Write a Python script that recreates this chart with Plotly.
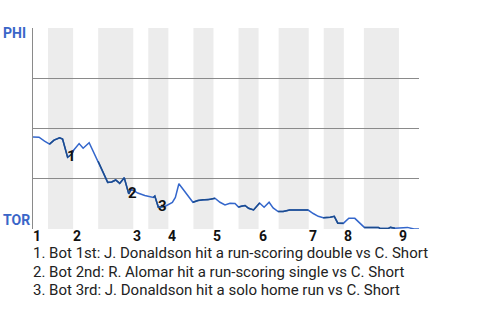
import plotly.graph_objects as go

# ---- data -------------------------------------------------------------
# event position (plate-appearance scale) and PHI win probability (%)
event_x = [0.0, 1.2, 2.3, 3.3, 4.2, 5.3, 5.9, 6.9, 7.7, 8.1, 9.2, 10.0, 11.2,
           13.0, 14.9, 15.7, 16.5, 17.3, 18.2, 19.1, 19.6, 20.9, 22.3, 24.0,
           24.3, 25.0, 26.3, 27.8, 28.4, 29.1, 30.6, 31.9, 32.9, 33.9, 34.9,
           35.6, 36.3, 37.3, 38.3, 39.3, 40.3, 41.0, 41.6, 42.3, 43.0, 44.0,
           45.2, 46.1, 47.1, 47.9, 48.9, 49.9, 51.2, 54.9, 55.9, 56.9, 57.9,
           59.3, 60.1, 60.8, 61.9, 63.0, 64.2, 66.1, 68.9, 69.2, 70.9, 71.3,
           72.2, 73.8, 74.7, 76.0, 77.0]
phi_wp = [45.8, 45.7, 43.7, 42.2, 44.2, 45.4, 44.7, 35.7, 37.2, 39.2, 42.5,
          40.2, 42.9, 33.7, 23.2, 23.4, 24.4, 22.7, 25.5, 17.5, 19.9, 17.9,
          16.7, 15.7, 16.4, 10.9, 11.2, 13.2, 15.7, 22.5, 17.5, 13.3, 14.2,
          14.5, 14.5, 14.9, 15.3, 13.3, 12.0, 12.8, 12.7, 10.9, 11.4, 11.7,
          10.3, 9.5, 12.9, 10.8, 13.3, 10.5, 8.7, 8.7, 9.4, 9.4, 7.7, 6.3,
          5.6, 5.8, 6.3, 2.9, 2.8, 5.4, 5.3, 0.8, 0.8, 0.3, 0.3, 0.8, 0.4,
          0.5, 0.8, 0.0, 0.0]

inning_labels = ["1", "2", "3", "4", "5", "6", "7", "8", "9"]
inning_starts = [0, 8, 20, 27, 36, 45, 55, 62, 73]
bottom_starts = [3, 13, 23, 32, 41, 49, 58, 66]
bottom_ends = [8, 20, 27, 36, 45, 55, 62, 73]
game_end = 77

key_event_index = [7, 19, 25]
key_event_labels = ["1", "2", "3"]
captions = [
    "1. Bot 1st: J. Donaldson hit a run-scoring double vs C. Short",
    "2. Bot 2nd: R. Alomar hit a run-scoring single vs C. Short",
    "3. Bot 3rd: J. Donaldson hit a solo home run vs C. Short",
]
team_top = "PHI"
team_bottom = "TOR"

# ---- figure -----------------------------------------------------------
FONT = "Roboto"
LIGHT = "#3467cc"
DARK = "#1c4c8e"

fig = go.Figure()

# shaded bottom halves
for s, e in zip(bottom_starts, bottom_ends):
    fig.add_shape(type="rect", xref="x", yref="paper", x0=s, x1=e, y0=0, y1=1,
                  fillcolor="#ececec", line_width=0, layer="below")

yv = [v / 100 for v in phi_wp]

fig.add_trace(go.Scatter(x=event_x, y=yv, mode="lines",
                         line=dict(color=LIGHT, width=1.5),
                         hoverinfo="skip", showlegend=False))

# darker segments during the home team's half innings
dx, dy = [], []
for s, e in zip(bottom_starts, bottom_ends):
    for x, y in zip(event_x, yv):
        if s - 0.3 <= x <= e + 0.3:
            dx.append(x)
            dy.append(y)
    dx.append(None)
    dy.append(None)
fig.add_trace(go.Scatter(x=dx, y=dy, mode="lines",
                         line=dict(color=DARK, width=1.5),
                         hoverinfo="skip", showlegend=False))

# key event markers
for idx, lab in zip(key_event_index, key_event_labels):
    fig.add_annotation(x=event_x[idx], y=yv[idx], text="<b>%s</b>" % lab, showarrow=False,
                       xanchor="center", yanchor="middle", xshift=4, yshift=1,
                       font=dict(family=FONT, size=15, color="#111"))

# inning labels
for s, lab in zip(inning_starts, inning_labels):
    fig.add_annotation(x=s, y=0, xref="x", yref="paper", text="<b>%s</b>" % lab,
                       showarrow=False, xanchor="left", yanchor="middle",
                       xshift=-1, yshift=-7, borderpad=0,
                       font=dict(family=FONT, size=14, color="#111"))

# team labels
fig.add_annotation(x=0, y=1, xref="paper", yref="paper", text="<b>%s</b>" % team_top,
                   showarrow=False, xanchor="left", yanchor="middle", xshift=-32, yshift=-5,
                   font=dict(family=FONT, size=14, color="#3a66c8"))
fig.add_annotation(x=0, y=0, xref="paper", yref="paper", text="<b>%s</b>" % team_bottom,
                   showarrow=False, xanchor="left", yanchor="middle", xshift=-32, yshift=9,
                   font=dict(family=FONT, size=14, color="#3a66c8"))

# captions
for i, cap in enumerate(captions):
    fig.add_annotation(x=0, y=0, xref="paper", yref="paper", text=cap,
                       showarrow=False, xanchor="left", yanchor="middle",
                       xshift=-1, yshift=-24 - 18.5 * i, borderpad=0,
                       font=dict(family=FONT, size=15, color="#222"))

fig.update_xaxes(range=[0, game_end], showgrid=False, zeroline=False,
                 showticklabels=False, ticks="", showline=False)
fig.update_yaxes(range=[0, 1], dtick=0.25, tick0=0, showgrid=True,
                 gridcolor="#8a8a8a", gridwidth=1, zeroline=False,
                 showticklabels=False, ticks="",
                 showline=True, linecolor="#8a8a8a", linewidth=1, mirror=False)

fig.update_layout(width=480, height=320,
                  margin=dict(l=33, r=61, t=28, b=91),
                  paper_bgcolor="white", plot_bgcolor="white",
                  font=dict(family=FONT))

fig.write_html("out.html")
